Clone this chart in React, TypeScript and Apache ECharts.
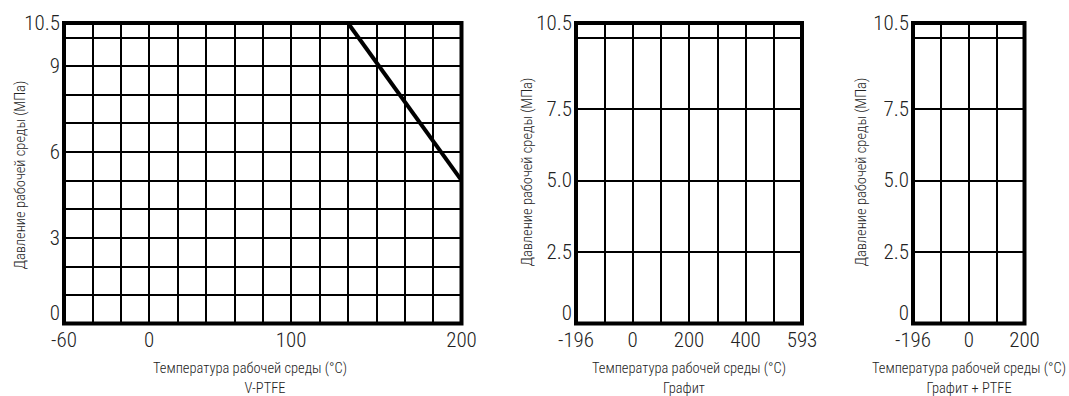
import React, { useEffect, useRef } from "react";
import * as echarts from "echarts";

// Chart 1: V-PTFE
const catsPTFE = ["-60", "-40", "-20", "0", "20", "40", "60", "80", "100", "117", "133", "150", "167", "183", "200"];
const labelsPTFE = ["-60", "0", "100", "200"];
const linePTFE: [string, number][] = [["133", 10.5], ["200", 5]];
const yLabelsPTFE = [0, 3, 6, 9, 10.5];

// Chart 2: Графит
const catsGraphite = ["-196", "-100", "0", "100", "200", "300", "400", "500", "593"];
const labelsGraphite = ["-196", "0", "200", "400", "593"];

// Chart 3: Графит + PTFE
const catsGP = ["-196", "-100", "0", "100", "200"];
const labelsGP = ["-196", "0", "200"];

const yLabels25 = [0, 2.5, 5, 7.5, 10.5];

const yName = "Давление рабочей среды (МПа)";
const xName = "Температура рабочей среды (°C)";
const subtitles = ["V-PTFE", "Графит", "Графит + PTFE"];

const FONT = "'Roboto Condensed', 'Liberation Sans Narrow', 'DejaVu Sans Condensed', Roboto, sans-serif";
const TXT = "#222";

export default function App() {
  const ref = useRef<HTMLDivElement>(null);
  useEffect(() => {
    document.body.style.margin = "0";
    const chart = echarts.init(ref.current!, null, { renderer: "svg" });

    const grids = [
      { left: 64, top: 23, width: 397.5, height: 300.5 },
      { left: 576, top: 23, width: 226, height: 300.5 },
      { left: 913, top: 23, width: 111.5, height: 300.5 },
    ].map((g) => ({ ...g, show: true, borderWidth: 4, borderColor: "#000", backgroundColor: "transparent" }));

    const xCats = [catsPTFE, catsGraphite, catsGP];
    const xLabs = [labelsPTFE, labelsGraphite, labelsGP];

    const xAxis = xCats.map((cats, i) => ({
      type: "category",
      gridIndex: i,
      data: cats,
      boundaryGap: false,
      axisLine: { show: false },
      axisTick: { show: false },
      splitLine: { show: true, interval: 0, lineStyle: { color: "#000", width: 2 } },
      axisLabel: {
        interval: (_idx: number, val: string) => xLabs[i].includes(val),
        fontFamily: FONT,
        fontWeight: 300,
        fontSize: 21,
        color: TXT,
        margin: 6,
      },
    }));

    const fmt25 = (v: number) => {
      if (v === 0) return "0";
      if (v === 10.5) return "10.5";
      if (yLabels25.includes(v)) return v.toFixed(1);
      return "";
    };

    const yAxis = [0, 1, 2].map((i) => ({
      type: "value",
      gridIndex: i,
      min: 0,
      max: 10.5,
      interval: i === 0 ? 1 : 2.5,
      axisLine: { show: false },
      axisTick: { show: false },
      splitLine: { show: true, lineStyle: { color: "#000", width: 2 } },
      axisLabel: {
        showMinLabel: true,
        showMaxLabel: true,
        verticalAlignMinLabel: "bottom",
        formatter: i === 0 ? (v: number) => (yLabelsPTFE.includes(v) ? String(v) : "") : fmt25,
        fontFamily: FONT,
        fontWeight: 300,
        fontSize: 21,
        color: TXT,
        margin: 4,
      },
    }));

    const textStyle = (text: string, size: number) => ({
      text,
      fontFamily: FONT,
      fontWeight: 300,
      fontSize: size,
      fill: TXT,
      align: "center",
      verticalAlign: "middle",
    });

    const yNamePos = [[20, 175], [527, 172], [861, 172]];
    const xNamePos = [[250, 368], [689, 368], [969, 368]];
    const subPos = [[265, 388], [684, 388], [969, 388]];

    const graphic: any[] = [];
    for (let i = 0; i < 3; i++) {
      graphic.push({ type: "text", x: yNamePos[i][0], y: yNamePos[i][1], rotation: Math.PI / 2, style: textStyle(yName, 14.5) });
      graphic.push({ type: "text", x: xNamePos[i][0], y: xNamePos[i][1], style: textStyle(xName, 14.5) });
      graphic.push({ type: "text", x: subPos[i][0], y: subPos[i][1], style: textStyle(subtitles[i], 14.5) });
    }

    chart.setOption({
      animation: false,
      grid: grids,
      xAxis,
      yAxis,
      graphic,
      series: [
        {
          type: "line",
          xAxisIndex: 0,
          yAxisIndex: 0,
          data: linePTFE,
          symbol: "none",
          clip: false,
          z: 10,
          lineStyle: { color: "#000", width: 4 },
        },
      ],
    });
    return () => chart.dispose();
  }, []);
  return <div ref={ref} style={{ width: 1069, height: 396 }} />;
}
